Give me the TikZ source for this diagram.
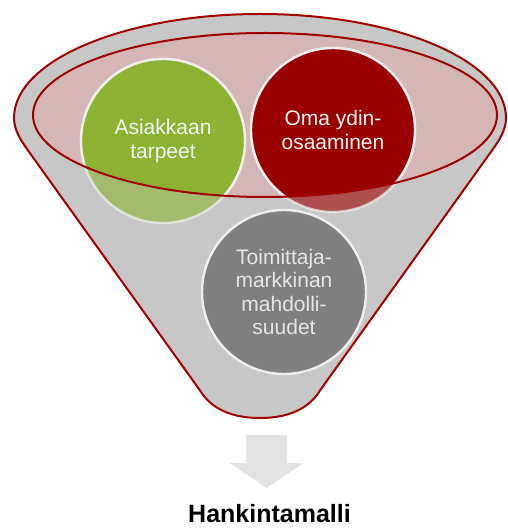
\documentclass[tikz,border=0pt]{standalone}
\usepackage{fontspec}
\setmainfont{Liberation Sans}
\usetikzlibrary{calc}
\begin{document}
\definecolor{funnelgray}{HTML}{C7C7C7}
\definecolor{rimred}{HTML}{A00000}
\definecolor{rimpink}{HTML}{D4B6B7}
\definecolor{needsgreen}{HTML}{8EB333}
\definecolor{corered}{HTML}{990000}
\definecolor{supplygray}{HTML}{7F7F7F}
\definecolor{bubbleedge}{HTML}{EEEEEE}
\definecolor{arrowgray}{HTML}{E3E3E3}
\begin{tikzpicture}[x=1pt,y=-1pt,
  funnel/.style={fill=funnelgray, draw=rimred, line width=2pt, line join=round},
  rim/.style={draw=rimred, line width=2pt},
  bubble/.style={circle, minimum size=164pt, inner sep=0pt, align=center,
    font=\fontsize{21}{23.5}\selectfont},
  bubbleline/.style={draw=bubbleedge, line width=2.4pt},
  resultlabel/.style={font=\fontsize{25}{28}\selectfont\bfseries, text=black, inner sep=0pt}]
\useasboundingbox (0,0) rectangle (507,529);

% funnel body: elliptic mouth, straight sides, rounded bottom
\draw[funnel] (14,118) arc[start angle=180, end angle=360, x radius=246, y radius=104]
  .. controls (506,130) and (499.2,140.3) .. (492.3,150)
  -- (320.3,390) .. controls (312,404) and (295,418) .. (260,418)
  .. controls (225,418) and (208,404) .. (199.7,390)
  -- (27.7,150) .. controls (20.8,140.3) and (14,130) .. (14,118) -- cycle;

% inner rim fill
\fill[rimpink] (265,115) ellipse[x radius=232, y radius=82];

% bubble centres
\coordinate (needsc) at (163,141);
\coordinate (corec) at (333,130);

% parts of the bubbles below the rim look faded
\fill[needsgreen, opacity=0.6] (needsc) circle[radius=82];
\fill[corered, opacity=0.6] (corec) circle[radius=82];
\draw[bubbleline, opacity=0.75] (needsc) circle[radius=82];
\draw[bubbleline, opacity=0.75] (corec) circle[radius=82];

% full colour inside the rim
\begin{scope}
  \clip (265,115) ellipse[x radius=232, y radius=82];
  \fill[needsgreen] (needsc) circle[radius=82];
  \fill[corered] (corec) circle[radius=82];
  \draw[bubbleline] (needsc) circle[radius=82];
  \draw[bubbleline] (corec) circle[radius=82];
\end{scope}

% rim outline
\draw[rim] (265,115) ellipse[x radius=232, y radius=82];

% bubble labels
\node[bubble, text=white!96!black] (needs) at (needsc) {Asiakkaan\\tarpeet};
\node[bubble, text=white!96!black] (core) at (corec) {Oma ydin-\\osaaminen};
\node[bubble, fill=supplygray, bubbleline, text=white!90!black] (supply) at (284,292)
  {Toimittaja-\\markkinan\\mahdolli-\\suudet};

% result below the funnel
\node[resultlabel, anchor=base] (result) at (269.5,522) {Hankintamalli};

% downward arrow from funnel to result
\coordinate (arrowtop) at (266.5,435);
\coordinate (arrowtip) at (266.5,488);
\fill[arrowgray] ($(arrowtop)+(-20.5,0)$) -- ($(arrowtop)+(20.5,0)$)
  -- ($(arrowtop)+(20.5,28)$) -- ($(arrowtop)+(37,28)$) -- (arrowtip)
  -- ($(arrowtop)+(-37,28)$) -- ($(arrowtop)+(-20.5,28)$) -- cycle;
\end{tikzpicture}
\end{document}
